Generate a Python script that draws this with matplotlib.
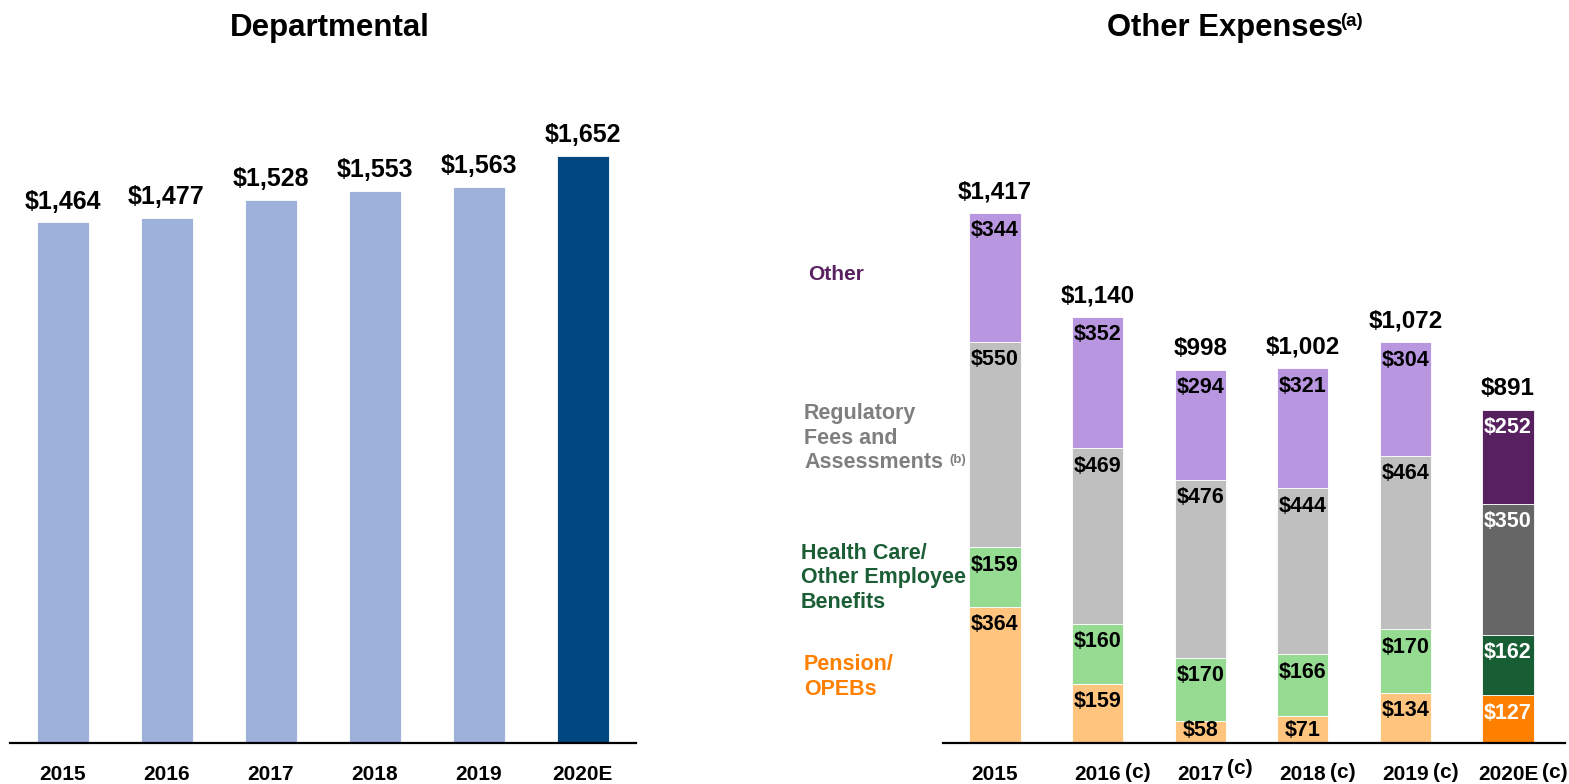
import numpy as np
import matplotlib
matplotlib.use("Agg")
import matplotlib.pyplot as plt

plt.rcParams['font.family'] = ['Liberation Sans', 'DejaVu Sans']
plt.rcParams['font.weight'] = 'bold'

# === Data ===
years = ["2015", "2016", "2017", "2018", "2019", "2020E"]
departmental = [1464, 1477, 1528, 1553, 1563, 1652]

pension = [364, 159, 58, 71, 134, 127]
health = [159, 160, 170, 166, 170, 162]
regulatory = [550, 469, 476, 444, 464, 350]
other = [344, 352, 294, 321, 304, 252]
note_years = ["2016", "2017", "2018", "2019", "2020E"]   # years flagged (c)

# colours: (actual years, estimate year)
dept_cols = ("#9DB1DA", "#00467F")
seg_cols = {
    "pension": ("#FFC57F", "#FF8000"),
    "health": ("#95DB92", "#185E34"),
    "regulatory": ("#BFBFBF", "#666666"),
    "other": ("#B996E0", "#57205F"),
}

W, H, DPI = 1569, 784, 100
fig = plt.figure(figsize=(W / DPI, H / DPI), dpi=DPI)

base_px = 743
top_px = 60
ax_b = (H - base_px) / H
ax_h = (base_px - top_px) / H


def px_ax(x0, x1):
    return [x0 / W, ax_b, (x1 - x0) / W, ax_h]


ax1 = fig.add_axes(px_ax(10, 636))
ax2 = fig.add_axes(px_ax(943, 1565))

x = np.arange(len(years))


def style_axis(ax):
    for s in ["top", "right", "left"]:
        ax.spines[s].set_visible(False)
    ax.spines["bottom"].set_linewidth(1.6)
    ax.spines["bottom"].set_color("black")
    ax.set_yticks([])
    ax.set_xticks(x)
    ax.set_xticklabels(years, fontsize=15, fontweight="bold")
    ax.tick_params(axis="x", length=0, pad=15.5)


# ---- Departmental ----
ax1.set_xlim(-0.505, 5.514)
ax1.set_ylim(0, 1921)
cols = [dept_cols[1] if y.endswith("E") else dept_cols[0] for y in years]
ax1.bar(x, departmental, width=0.5, color=cols, edgecolor="white", linewidth=0.6)
for i, v in enumerate(departmental):
    ax1.annotate(f"${v:,}", (i, v), xytext=(0, 15), textcoords="offset points",
                 ha="center", va="center", fontsize=18, fontweight="bold")
style_axis(ax1)

# ---- Other Expenses ----
ax2.set_xlim(-0.507, 5.556)
ymax2 = 1826
ax2.set_ylim(0, ymax2)
ppu = (base_px - top_px) / ymax2   # pixels per unit

bottom = np.zeros(len(years))
for key, vals in [("pension", pension), ("health", health),
                  ("regulatory", regulatory), ("other", other)]:
    light, dark = seg_cols[key]
    cols = [dark if y.endswith("E") else light for y in years]
    ax2.bar(x, vals, width=0.5, bottom=bottom, color=cols,
            edgecolor="white", linewidth=0.6)
    for i, v in enumerate(vals):
        top = bottom[i] + v
        yc = max(top - 18 / ppu, 12 / ppu)
        tc = "white" if years[i].endswith("E") else "black"
        ax2.text(i, yc, f"${v}", ha="center", va="center", fontsize=15.5,
                 fontweight="bold", color=tc)
    bottom += np.array(vals)

for i, v in enumerate(bottom):
    ax2.annotate(f"${int(v):,}", (i, v), xytext=(0, 15), textcoords="offset points",
                 ha="center", va="center", fontsize=17.5, fontweight="bold")
style_axis(ax2)

# (c) notes placed just after each flagged year label
fig.canvas.draw()
inv = fig.transFigure.inverted()
for lab in ax2.get_xticklabels():
    if lab.get_text() not in note_years:
        continue
    bb = lab.get_window_extent()
    yc = (bb.y0 + bb.y1) / 2 + (6 if lab.get_text() == "2017" else 1.5)
    fx, fy = inv.transform((bb.x1 + 4, yc))
    fig.text(fx, fy, "(c)", ha="left", va="center", fontsize=15, fontweight="bold")


# ---- Titles ----
def ftext(px, py, s, **kw):
    fig.text(px / W, 1 - py / H, s, **kw)


ftext(330, 28, "Departmental", ha="center", va="center", fontsize=22.5, fontweight="bold")
ftext(1107, 28, "Other Expenses", ha="left", va="center", fontsize=22.3, fontweight="bold")
ftext(1340, 22, "(a)", ha="left", va="center", fontsize=13.5, fontweight="bold")

# ---- Series labels ----
ftext(808, 275, "Other", ha="left", va="center", fontsize=15,
      fontweight="bold", color="#5A2160")
ftext(804, 438, "Regulatory\nFees and\nAssessments", ha="left", va="center",
      fontsize=15.5, fontweight="bold", color="#7F7F7F", linespacing=1.22)
ftext(949, 460, "(b)", ha="left", va="center", fontsize=9.5,
      fontweight="bold", color="#7F7F7F")
ftext(801, 578, "Health Care/\nOther Employee\nBenefits", ha="left", va="center",
      fontsize=15.5, fontweight="bold", color="#1B5E36", linespacing=1.22)
ftext(804, 677, "Pension/\nOPEBs", ha="left", va="center",
      fontsize=15.5, fontweight="bold", color="#FF8000", linespacing=1.22)

fig.savefig("out.png", dpi=DPI)
